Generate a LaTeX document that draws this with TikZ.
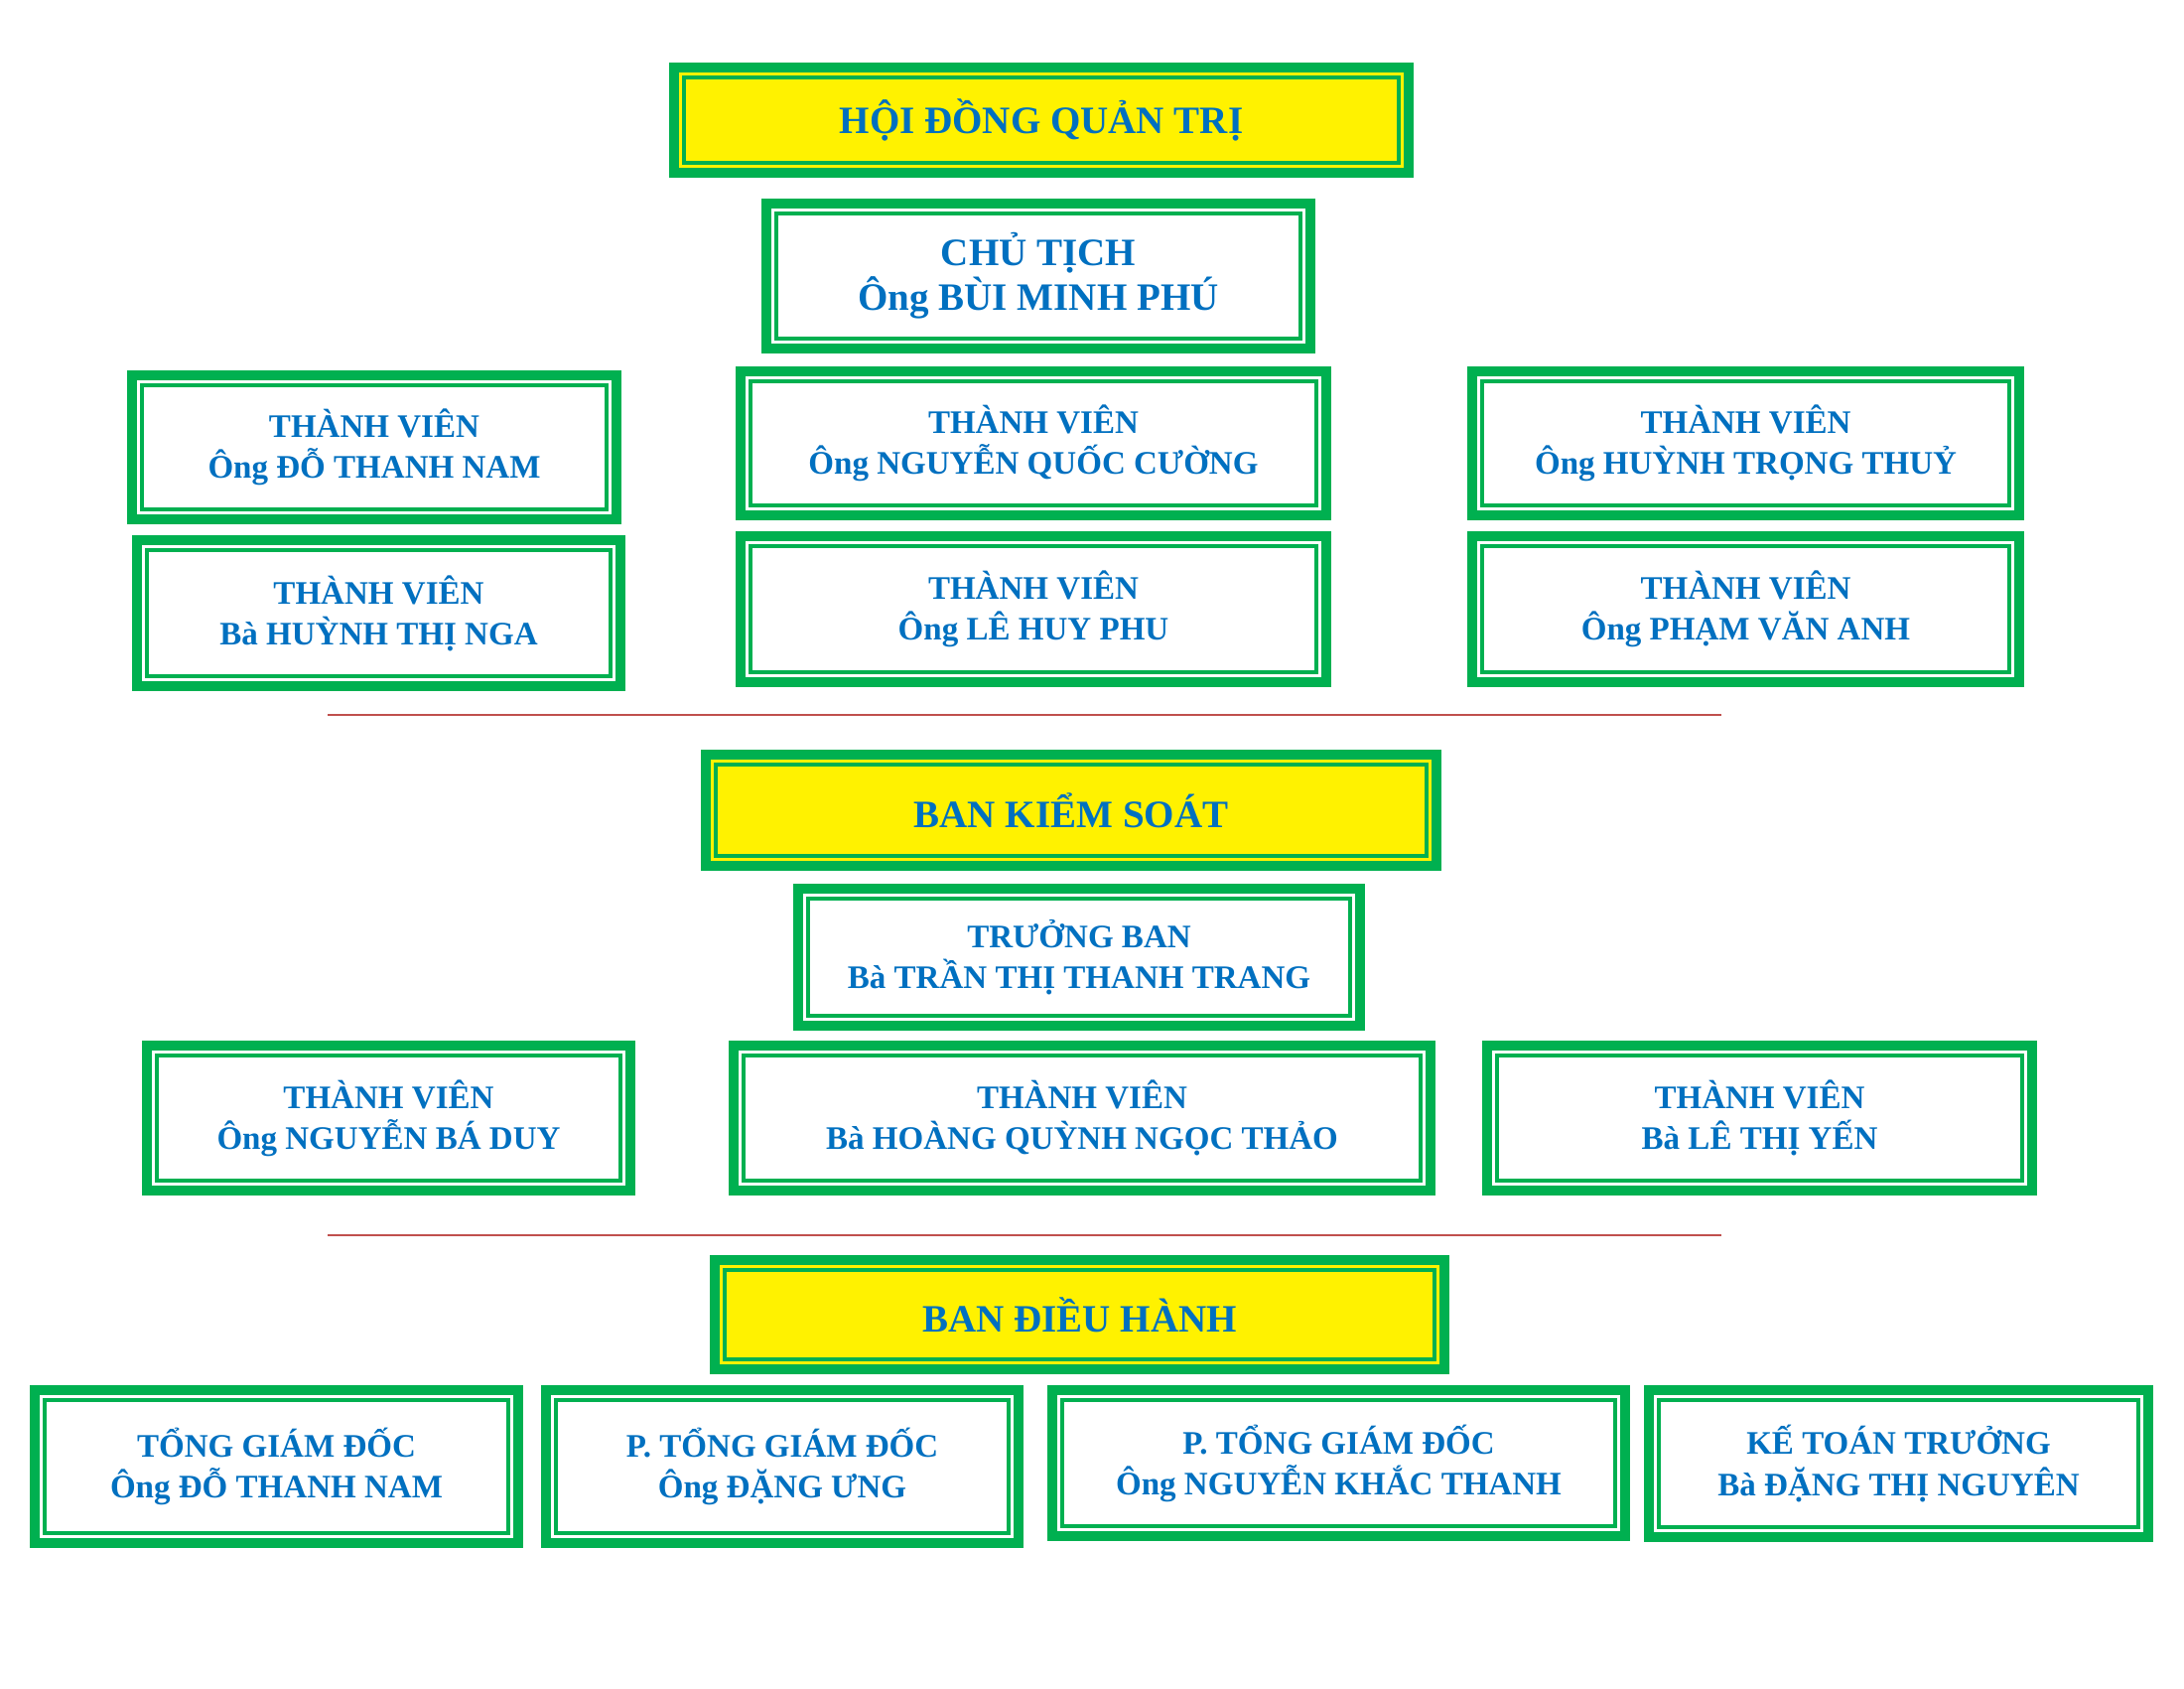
\documentclass[tikz,border=0pt]{standalone}
\usepackage{fontspec}
\setmainfont{Liberation Serif}
\definecolor{hgreen}{HTML}{00B050}
\definecolor{hblue}{HTML}{0070C0}
\definecolor{hred}{HTML}{C0504D}
\begin{document}
\begin{tikzpicture}[
    box/.style ={rectangle, draw=hgreen, line width=0.1cm, fill=white,
      inner sep=0pt, align=center, text=hblue,
      font=\fontsize{9.4}{11.7}\selectfont\bfseries,
      path picture={\draw[hgreen, line width=0.04cm]
        ([shift={(0.1,0.1)}]path picture bounding box.south west) rectangle
        ([shift={(-0.1,-0.1)}]path picture bounding box.north east);}},
    title/.style ={box, fill=yellow, font=\fontsize{11.1}{13}\selectfont\bfseries},
    head/.style ={box, font=\fontsize{11.1}{12.8}\selectfont\bfseries}]
   \useasboundingbox (0,0) rectangle (22,17);
   % hoi dong quan tri
   \node[title, minimum width=7.4cm, minimum height=1.06cm] (hdqt) at (10.49,15.79) {HỘI ĐỒNG QUẢN TRỊ};
   \node[head, minimum width=5.48cm, minimum height=1.46cm] (ct) at (10.46,14.22) {CHỦ TỊCH\\Ông BÙI MINH PHÚ};
   \node[box, minimum width=4.88cm, minimum height=1.45cm] (tv1) at (3.77,12.495) {THÀNH VIÊN\\Ông ĐỖ THANH NAM};
   \node[box, minimum width=5.9cm, minimum height=1.45cm] (tv2) at (10.41,12.535) {THÀNH VIÊN\\Ông NGUYỄN QUỐC CƯỜNG};
   \node[box, minimum width=5.51cm, minimum height=1.45cm] (tv3) at (17.585,12.535) {THÀNH VIÊN\\Ông HUỲNH TRỌNG THUỶ};
   \node[box, minimum width=4.87cm, minimum height=1.47cm] (tv4) at (3.815,10.825) {THÀNH VIÊN\\Bà HUỲNH THỊ NGA};
   \node[box, minimum width=5.9cm, minimum height=1.47cm] (tv5) at (10.41,10.865) {THÀNH VIÊN\\Ông LÊ HUY PHU};
   \node[box, minimum width=5.51cm, minimum height=1.47cm] (tv6) at (17.585,10.865) {THÀNH VIÊN\\Ông PHẠM VĂN ANH};
   \draw[hred, line width=0.025cm] (3.30,9.80) -- (17.34,9.80);
   % ban kiem soat
   \node[title, minimum width=7.36cm, minimum height=1.12cm] (bks) at (10.79,8.84) {BAN KIỂM SOÁT};
   \node[box, minimum width=5.66cm, minimum height=1.38cm] (tb) at (10.87,7.36) {TRƯỞNG BAN\\Bà TRẦN THỊ THANH TRANG};
   \node[box, minimum width=4.87cm, minimum height=1.46cm] (ks1) at (3.915,5.74) {THÀNH VIÊN\\Ông NGUYỄN BÁ DUY};
   \node[box, minimum width=7.02cm, minimum height=1.46cm] (ks2) at (10.90,5.74) {THÀNH VIÊN\\Bà HOÀNG QUỲNH NGỌC THẢO};
   \node[box, minimum width=5.49cm, minimum height=1.46cm] (ks3) at (17.725,5.74) {THÀNH VIÊN\\Bà LÊ THỊ YẾN};
   \draw[hred, line width=0.025cm] (3.30,4.56) -- (17.34,4.56);
   % ban dieu hanh
   \node[title, minimum width=7.35cm, minimum height=1.1cm] (bdh) at (10.875,3.76) {BAN ĐIỀU HÀNH};
   \node[box, minimum width=4.87cm, minimum height=1.54cm] (tgd) at (2.785,2.23) {TỔNG GIÁM ĐỐC\\Ông ĐỖ THANH NAM};
   \node[box, minimum width=4.76cm, minimum height=1.54cm] (ptgd1) at (7.88,2.23) {P. TỔNG GIÁM ĐỐC\\Ông ĐẶNG ƯNG};
   \node[box, minimum width=5.77cm, minimum height=1.47cm] (ptgd2) at (13.485,2.265) {P. TỔNG GIÁM ĐỐC\\Ông NGUYỄN KHẮC THANH};
   \node[box, minimum width=5.03cm, minimum height=1.48cm] (ktt) at (19.125,2.26) {KẾ TOÁN TRƯỞNG\\Bà ĐẶNG THỊ NGUYÊN};
 \end{tikzpicture}
\end{document}
